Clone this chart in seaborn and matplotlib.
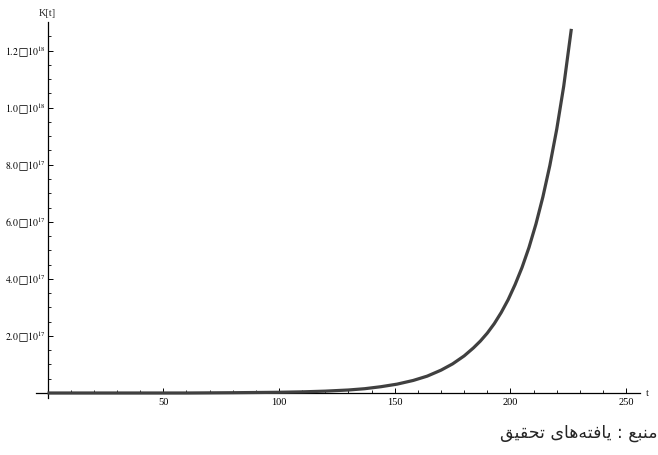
import numpy as np
import pandas as pd
import matplotlib
matplotlib.use("Agg")
import matplotlib.pyplot as plt
from matplotlib.ticker import FixedLocator
import seaborn as sns

# values
t_values = [0, 20, 40, 60, 80, 100, 110, 120, 130, 137, 144, 151, 158, 164, 170, 175,
            180, 184, 187, 190, 193, 196, 199, 202, 205, 208, 211, 214, 217, 220, 223, 226.3]
k_values_e17 = [0, 0, 0, 0, 0.01, 0.025, 0.04, 0.065, 0.105, 0.15, 0.22, 0.31, 0.44, 0.59, 0.80, 1.02,
                1.30, 1.58, 1.82, 2.10, 2.43, 2.82, 3.27, 3.80, 4.40, 5.10, 5.92, 6.87, 7.97, 9.25, 10.75, 12.76]
x_ticks = [50, 100, 150, 200, 250]
x_tick_labels = ["50", "100", "150", "200", "250"]
y_ticks_e17 = [2, 4, 6, 8, 10, 12]
y_tick_labels = ["$2.0\\,\u25A110^{17}$", "$4.0\\,\u25A110^{17}$", "$6.0\\,\u25A110^{17}$",
                 "$8.0\\,\u25A110^{17}$", "$1.0\\,\u25A110^{18}$", "$1.2\\,\u25A110^{18}$"]
y_label = "K[t]"
x_label = "t"
# Persian caption "منبع : یافته‌های تحقیق" written in presentation forms, visual order
caption = ("\uFED6\uFBFF\uFED8\uFEA4\uFE97" + " " +
           "\uFBFC\uFE8E\uFEEB\uFEEA\uFE98\uFED3\uFE8E\uFBFE" + " : " +
           "\uFECA\uFE92\uFEE8\uFEE3")

df = pd.DataFrame({"t": t_values, "K": np.array(k_values_e17) * 1e17})

sns.set_style("white")
plt.rcParams["mathtext.fontset"] = "stix"
plt.rcParams["font.family"] = ["Liberation Serif", "DejaVu Serif"]

fig = plt.figure(figsize=(6.58, 4.55), dpi=100)
ax = fig.add_axes([0.0546, 0.1253, 0.9182, 0.8263])

sns.lineplot(data=df, x="t", y="K", ax=ax, color="#404040", linewidth=2.3,
             solid_capstyle="butt", solid_joinstyle="round", clip_on=False, zorder=3)

ax.set_xlim(-5, 256)
ax.set_ylim(-0.175e17, 13.0e17)

for s in ["top", "right"]:
    ax.spines[s].set_visible(False)
ax.spines["left"].set_position(("data", 0))
ax.spines["bottom"].set_position(("data", 0))
for s in ["left", "bottom"]:
    ax.spines[s].set_linewidth(0.9)
    ax.spines[s].set_color("black")

ax.set_xticks(x_ticks)
ax.set_xticklabels(x_tick_labels)
ax.set_yticks(np.array(y_ticks_e17) * 1e17)
ax.set_yticklabels(y_tick_labels)
ax.xaxis.set_minor_locator(FixedLocator([v for v in range(10, 256, 10) if v % 50]))
ax.yaxis.set_minor_locator(FixedLocator([v * 0.5e17 for v in range(1, 26) if v % 4]))

ax.tick_params(axis="both", which="both", bottom=True, left=True, top=False, right=False)
ax.tick_params(axis="both", which="major", direction="in", length=3.5, width=0.7,
               labelsize=7.5, pad=3.5, colors="black")
ax.tick_params(axis="both", which="minor", direction="in", length=2, width=0.6, colors="black")
ax.tick_params(axis="y", which="major", labelsize=7, pad=1.5)
ax.set_xlabel("")
ax.set_ylabel("")

fig.text(646 / 658, 1 - 393 / 455, x_label, fontsize=7.5, ha="left", va="center")
fig.text(47 / 658, 1 - 13 / 455, y_label, fontsize=7.5, ha="center", va="center")

fig.text(657 / 658, 1 - 433 / 455, caption, fontsize=12.5, ha="right", va="center",
         family=["DejaVu Sans"])

fig.savefig("out.png", dpi=100)
